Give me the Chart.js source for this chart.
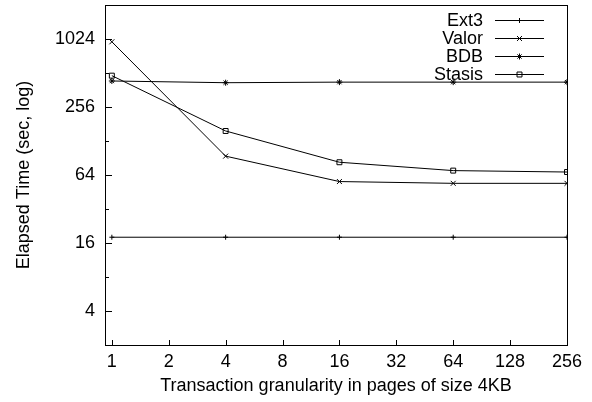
<!DOCTYPE html>
<html>
<head>
<meta charset="utf-8">
<script src="https://cdn.jsdelivr.net/npm/chart.js@4/dist/chart.umd.min.js"></script>
<style>
  html, body { margin: 0; padding: 0; background: #fff; }
  #wrap { width: 592px; height: 402px; }
</style>
</head>
<body>
<div id="wrap"><canvas id="chart" width="592" height="402"></canvas></div>
<script>
// transaction granularity (pages) where each run was measured
const pages = [1, 4, 16, 64, 256];

// elapsed seconds
const ext3 = [18, 18, 18, 18, 18];
const valor = [967, 94, 56, 54, 54];
const bdb = [435, 420, 425, 425, 425];
const stasis = [485, 157, 83, 70, 68];

const xTicks = [1, 2, 4, 8, 16, 32, 64, 128, 256];
const yTicks = [4, 16, 64, 256, 1024];
const yMinor = [8, 32, 128, 512];

const FONT = { family: '"Liberation Sans", Arial, Helvetica, sans-serif', size: 18 };

function series(label, values, style, radius) {
  return {
    label: label,
    data: pages.map((p, i) => ({ x: p, y: values[i] })),
    borderColor: '#000',
    backgroundColor: 'rgba(0,0,0,0)',
    borderWidth: 1,
    tension: 0,
    pointStyle: style,
    pointRadius: radius,
    pointBorderColor: '#000',
    pointBackgroundColor: 'rgba(0,0,0,0)',
    pointBorderWidth: 1
  };
}

// frame + inward tick marks, gnuplot style
const framePlugin = {
  id: 'frame',
  afterDatasetsDraw(chart) {
    const { ctx, chartArea: a, scales } = chart;
    ctx.save();
    ctx.strokeStyle = '#000';
    ctx.lineWidth = 1;
    ctx.strokeRect(a.left + 0.5, a.top + 0.5, a.right - a.left, a.bottom - a.top);
    ctx.beginPath();
    xTicks.forEach(v => {
      const x = Math.round(scales.x.getPixelForValue(v)) + 0.5;
      ctx.moveTo(x, a.bottom);
      ctx.lineTo(x, a.bottom - 5);
    });
    yTicks.forEach(v => {
      const y = Math.round(scales.y.getPixelForValue(v)) + 0.5;
      ctx.moveTo(a.left, y);
      ctx.lineTo(a.left + 7, y);
    });
    yMinor.forEach(v => {
      const y = Math.round(scales.y.getPixelForValue(v)) + 0.5;
      ctx.moveTo(a.left, y);
      ctx.lineTo(a.left + 4, y);
    });
    ctx.stroke();
    ctx.restore();
  }
};

// legend: label on the left, line sample with marker on the right
const keyPlugin = {
  id: 'key',
  afterDraw(chart) {
    const { ctx } = chart;
    const textRight = 483, lineL = 495, lineR = 544, top = 20, step = 18;
    ctx.save();
    ctx.font = FONT.size + 'px ' + FONT.family;
    ctx.textAlign = 'right';
    ctx.textBaseline = 'middle';
    chart.data.datasets.forEach((ds, i) => {
      const y = top + i * step;
      ctx.fillStyle = '#000';
      ctx.fillText(ds.label, textRight, y + 1);
      ctx.strokeStyle = '#000';
      ctx.lineWidth = 1;
      ctx.beginPath();
      ctx.moveTo(lineL, y + 0.5);
      ctx.lineTo(lineR, y + 0.5);
      ctx.stroke();
      ctx.fillStyle = 'rgba(0,0,0,0)';
      Chart.helpers.drawPoint(ctx, {
        pointStyle: ds.pointStyle, radius: ds.pointRadius, rotation: 0, borderWidth: 1
      }, (lineL + lineR) / 2, y + 0.5);
    });
    ctx.restore();
  }
};

new Chart(document.getElementById('chart'), {
  type: 'line',
  data: {
    datasets: [
      series('Ext3', ext3, 'cross', 2.5),
      series('Valor', valor, 'crossRot', 3.5),
      series('BDB', bdb, 'star', 3),
      series('Stasis', stasis, 'rect', 3.5)
    ]
  },
  options: {
    responsive: false,
    animation: false,
    layout: { autoPadding: false, padding: { top: 5, right: 25, left: 0, bottom: 0 } },
    plugins: { legend: { display: false }, tooltip: { enabled: false } },
    scales: {
      x: {
        type: 'logarithmic',
        min: 0.92,
        max: 256,
        afterBuildTicks: s => { s.ticks = xTicks.map(v => ({ value: v })); },
        afterFit: s => { s.height = 57; s.paddingLeft = 0; s.paddingRight = 0; },
        grid: { display: false, drawTicks: false },
        border: { display: false },
        ticks: { color: '#000', font: FONT, padding: 6, maxRotation: 0, autoSkip: false,
                 callback: v => String(v) },
        title: { display: true, text: 'Transaction granularity in pages of size 4KB',
                 color: '#000', font: FONT, padding: { top: 5, bottom: 5 } }
      },
      y: {
        type: 'logarithmic',
        min: 2,
        max: 2048,
        afterBuildTicks: s => { s.ticks = yTicks.map(v => ({ value: v })); },
        afterFit: s => { s.width = 105; s.paddingTop = 0; s.paddingBottom = 0; },
        grid: { display: false, drawTicks: false },
        border: { display: false },
        ticks: { color: '#000', font: FONT, padding: 10, autoSkip: false,
                 callback: v => String(v) },
        title: { display: true, text: 'Elapsed Time (sec, log)',
                 color: '#000', font: FONT, padding: { top: 13, bottom: 13 } }
      }
    }
  },
  plugins: [framePlugin, keyPlugin]
});
</script>
</body>
</html>
